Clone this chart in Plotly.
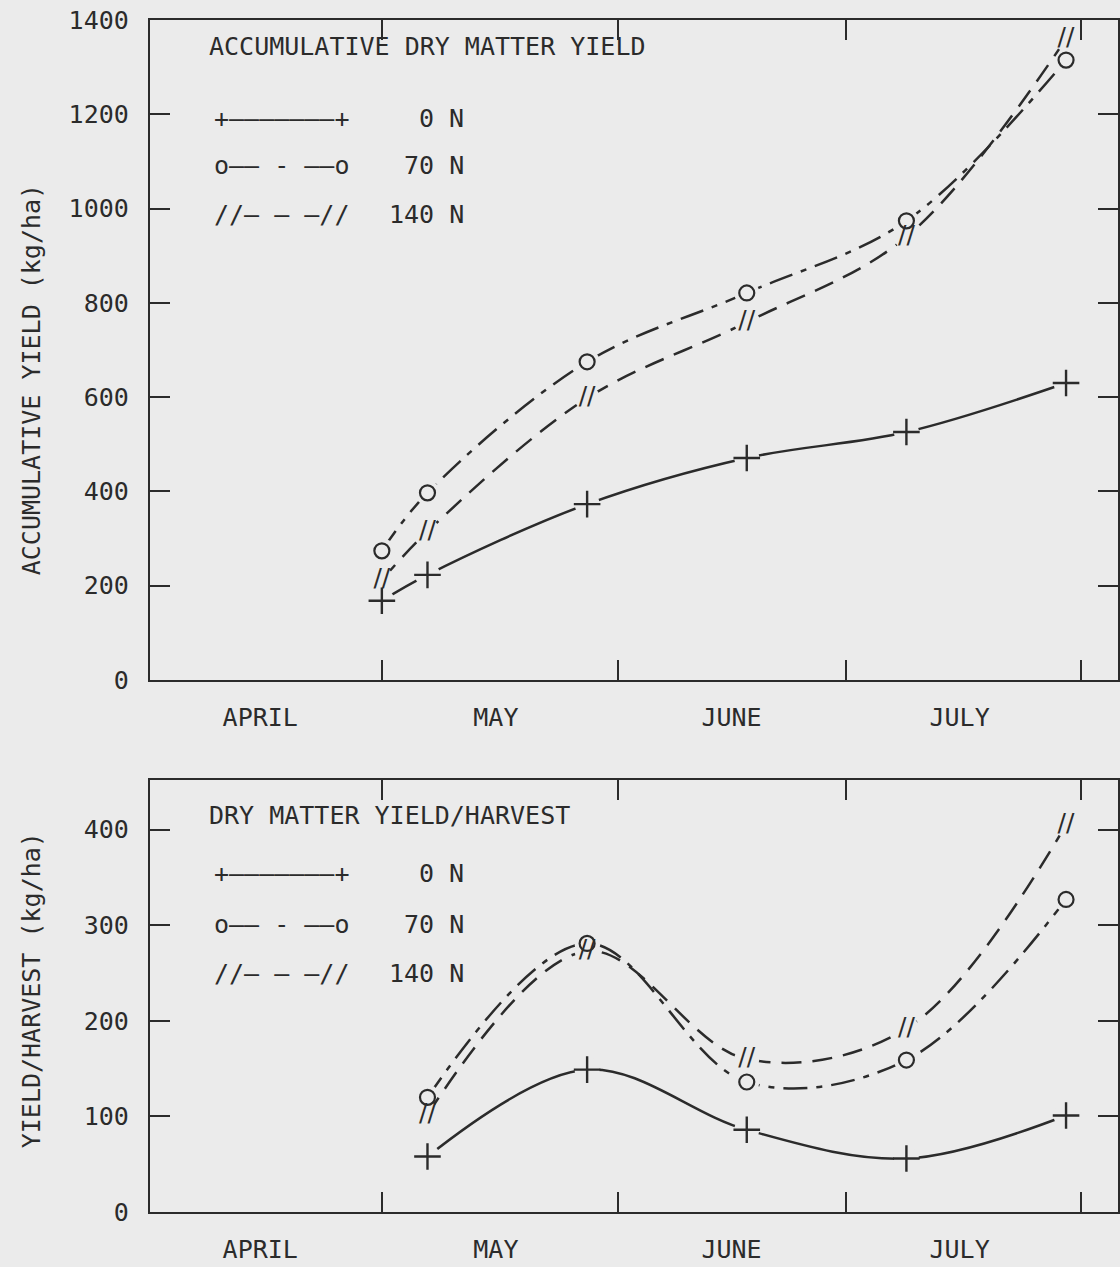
import plotly.graph_objects as go

# ---------------- data ----------------
cum_dates = ["2000-05-01", "2000-05-07", "2000-05-28", "2000-06-18", "2000-07-09", "2000-07-30"]
cum_0N = [168, 223, 373, 471, 526, 630]
cum_70N = [274, 397, 675, 821, 974, 1315]
cum_140N = [212, 315, 598, 759, 940, 1360]

harv_dates = ["2000-05-07", "2000-05-28", "2000-06-18", "2000-07-09", "2000-07-30"]
harv_0N = [58, 149, 86, 56, 101]
harv_70N = [120, 281, 136, 159, 327]
harv_140N = [102, 273, 160, 192, 405]

month_labels = ["APRIL", "MAY", "JUNE", "JULY"]
month_mid = ["2000-04-15", "2000-05-16", "2000-06-16", "2000-07-16"]
month_bounds = ["2000-05-01", "2000-06-01", "2000-07-01", "2000-08-01"]

series_names = ["0 N", "70 N", "140 N"]
legend_samples = ["+———————+", "o—— - ——o", "//— — —//"]

# ---------------- styles ----------------
BG = "#ebebeb"
INK = "#2b2b2b"
MONO = "DejaVu Sans Mono"
dashes = ["solid", "24px,9px,6px,9px", "20px,11px"]

fig = go.Figure()

panels = [
    ("x", "y", cum_dates, [cum_0N, cum_70N, cum_140N]),
    ("x2", "y2", harv_dates, [harv_0N, harv_70N, harv_140N]),
]

for xa, ya, dates, series in panels:
    # lines (with background-coloured markers to leave a gap round each symbol)
    for i, vals in enumerate(series):
        fig.add_trace(go.Scatter(
            x=dates, y=vals, xaxis=xa, yaxis=ya, mode="lines+markers",
            line=dict(shape="spline", smoothing=1.0, color=INK, width=2.5, dash=dashes[i]),
            marker=dict(symbol="circle", size=25, color=BG, line=dict(width=0)),
            showlegend=False, hoverinfo="skip", name=series_names[i]))
    # symbols at the data points
    fig.add_trace(go.Scatter(
        x=dates, y=series[0], xaxis=xa, yaxis=ya, mode="markers",
        marker=dict(symbol="cross-thin", size=19, color=INK, line=dict(width=2.4, color=INK)),
        showlegend=False, name=series_names[0]))
    fig.add_trace(go.Scatter(
        x=dates, y=series[1], xaxis=xa, yaxis=ya, mode="markers",
        marker=dict(symbol="circle-open", size=15, color=INK, line=dict(width=2.2, color=INK)),
        showlegend=False, name=series_names[1]))
    fig.add_trace(go.Scatter(
        x=dates, y=series[2], xaxis=xa, yaxis=ya, mode="text",
        text=["//"] * len(series[2]), textposition="middle center",
        textfont=dict(family="DejaVu Sans", size=25, color=INK),
        showlegend=False, name=series_names[2]))

# ---------------- axes ----------------
tickfont = dict(family=MONO, size=25, color=INK)
xcommon = dict(
    type="date", range=["2000-03-31 12:00", "2000-08-05 20:00"],
    tickmode="array", tickvals=month_mid, ticktext=month_labels, ticks="",
    tickfont=tickfont, ticklabelstandoff=14,
    minor=dict(tickmode="array", tickvals=month_bounds, ticks="inside",
               ticklen=20, tickwidth=2.4, tickcolor=INK, showgrid=False),
    showline=True, linecolor=INK, linewidth=2.4, mirror="ticks",
    showgrid=False, zeroline=False,
)
ycommon = dict(
    ticks="inside", ticklen=20, tickwidth=2.4, tickcolor=INK,
    tickfont=tickfont, ticklabelstandoff=14,
    showline=True, linecolor=INK, linewidth=2.4, mirror="ticks",
    showgrid=False, zeroline=False,
)

top_dom = [(1212 - 680) / 1192, 1.0]
bot_dom = [0.0, (1212 - 780) / 1192]

fig.update_layout(
    width=1120, height=1267,
    margin=dict(l=150, r=0, t=20, b=55),
    paper_bgcolor=BG, plot_bgcolor=BG,
    font=dict(family=MONO, color=INK),
    showlegend=False,
    xaxis=dict(xcommon, domain=[0, 1], anchor="y"),
    yaxis=dict(ycommon, domain=top_dom, anchor="x", range=[0, 1400],
               tickvals=[0, 200, 400, 600, 800, 1000, 1200, 1400]),
    xaxis2=dict(xcommon, domain=[0, 1], anchor="y2"),
    yaxis2=dict(ycommon, domain=bot_dom, anchor="x2", range=[0, 452],
                tickvals=[0, 100, 200, 300, 400]),
)

# ---------------- titles and typed legends ----------------
def px(x):
    return (x - 150) / 970


def py(y):
    return (1212 - y) / 1192


ann = []
ann.append(dict(text="ACCUMULATIVE DRY MATTER YIELD", x=px(207), y=py(46)))
ann.append(dict(text="DRY MATTER YIELD/HARVEST", x=px(207), y=py(815)))
for rows_y in ([118, 166, 214], [873, 924, 973]):
    for i in range(3):
        ann.append(dict(text=legend_samples[i], x=px(212), y=py(rows_y[i])))
        ann.append(dict(text=series_names[i], x=px(467), y=py(rows_y[i]), xanchor="right"))

for a in ann:
    a.setdefault("xanchor", "left")
    fig.add_annotation(xref="paper", yref="paper", yanchor="middle", showarrow=False,
                       font=dict(family=MONO, size=25, color=INK), **a)

# vertical axis titles
fig.add_annotation(text="ACCUMULATIVE YIELD (kg/ha)", xref="paper", yref="paper",
                   x=px(31), y=py(380), xanchor="center", yanchor="middle", textangle=-90,
                   showarrow=False, font=dict(family=MONO, size=25, color=INK))
fig.add_annotation(text="YIELD/HARVEST (kg/ha)", xref="paper", yref="paper",
                   x=px(31), y=py(990), xanchor="center", yanchor="middle", textangle=-90,
                   showarrow=False, font=dict(family=MONO, size=25, color=INK))

fig.write_html("out.html", config={"displayModeBar": False},
               post_script="document.body.style.margin='0';document.body.style.background='" + BG + "';")
